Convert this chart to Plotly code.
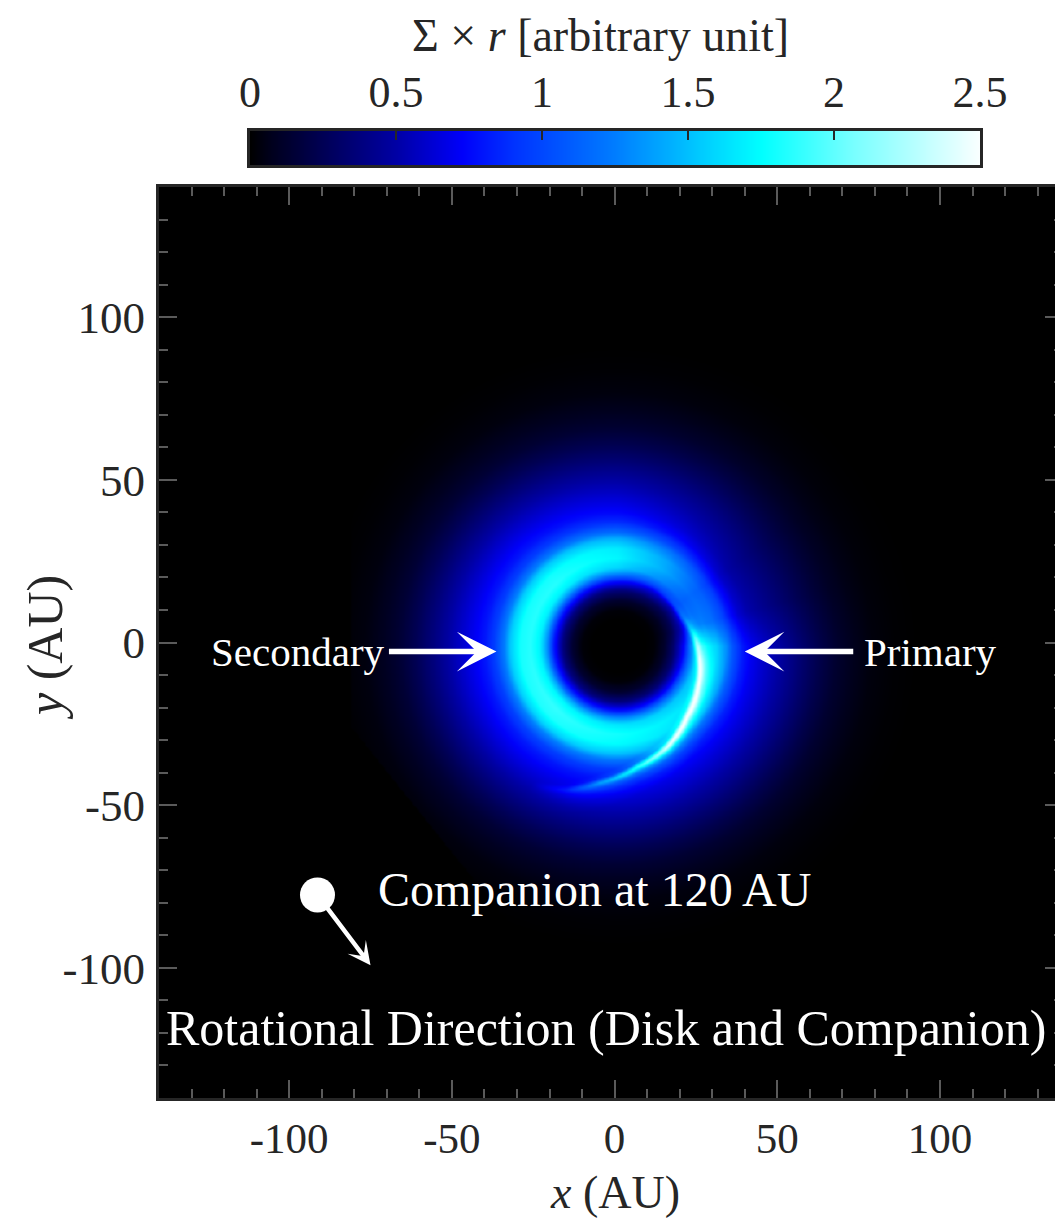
import numpy as np
import plotly.graph_objects as go

# ---------------- values ----------------
# azimuthally averaged Sigma*r profile of the disk (radius in AU)
ring_radius_au = [0, 8, 11, 14, 17, 20, 22, 24, 27, 30, 33, 35, 38, 41, 44, 47, 52, 57, 62, 67, 72, 78, 85, 92]
ring_sigma_r = [0, 0, 0.02, 0.13, 0.38, 0.85, 1.35, 1.7, 1.85, 1.8, 1.55, 1.25, 0.95, 0.8, 0.71, 0.63, 0.5, 0.37, 0.25, 0.15, 0.085, 0.035, 0.01, 0]

# azimuthal brightness factor of the disk (angle from +x, degrees)
azimuth_deg = [-180, -135, -90, -45, -15, 0, 15, 35, 60, 90, 135, 180]
azimuth_factor = [1.0, 1.02, 0.97, 0.9, 0.88, 0.86, 0.65, 0.62, 0.78, 0.93, 1.0, 1.0]

# spiral arm track: azimuth (deg), radius (AU), extra Sigma*r at the crest
arm_azimuth_deg = [-122, -110, -98, -81, -64, -46, -27, -10, 5, 24, 40, 60]
arm_radius_au = [50, 47, 42.5, 37.6, 34.4, 30.3, 27.5, 25.4, 23.8, 21.8, 21.3, 21]
arm_peak = [0, 0.2, 0.65, 0.95, 1.2, 1.0, 0.95, 1.0, 0.75, 0.4, 0.2, 0]

# arm cross-section (radial offset from the crest, AU) and relative weight
arm_offset_au = [-3.0, -1.5, -0.6, 0.0, 0.6, 1.5, 3.0, 5.0, 8.0]
arm_profile = [0.0, 0.15, 0.7, 1.0, 0.8, 0.45, 0.2, 0.07, 0.0]

disk_center_au = [1.0, -1.0]
# straight outer edge of the simulated region (lower left)
cutoff_edge_x_au = [-81.0, -48.0]
cutoff_edge_y_au = [-26.0, -67.0]

companion_x_au = [-91.3]
companion_y_au = [-77.6]

colorbar_range = [0.0, 2.5]
colorbar_ticks = [0, 0.5, 1, 1.5, 2, 2.5]
colorbar_ticktext = ["0", "0.5", "1", "1.5", "2", "2.5"]
axis_ticks = [-100, -50, 0, 50, 100]
axis_ticktext = ["-100", "-50", "0", "50", "100"]

# ---------------- build the image table ----------------
gx = np.arange(-100.0, 100.01, 0.5)
gy = np.arange(-100.0, 100.01, 0.5)
X, Y = np.meshgrid(gx, gy)
DX = X - disk_center_au[0]
DY = Y - disk_center_au[1]
R = np.hypot(DX, DY)
TH = np.degrees(np.arctan2(DY, DX))
base = np.interp(R, ring_radius_au, ring_sigma_r) * np.interp(TH, azimuth_deg, azimuth_factor)
arm_r = np.interp(TH, arm_azimuth_deg, arm_radius_au)
arm_a = np.interp(TH, arm_azimuth_deg, arm_peak)
Z = base + arm_a * np.interp(R - arm_r, arm_offset_au, arm_profile)
ex, ey = cutoff_edge_x_au, cutoff_edge_y_au
side = (ex[1] - ex[0]) * (Y - ey[0]) - (ey[1] - ey[0]) * (X - ex[0])
Z[(side < 0) | (X < ex[0])] = 0.0
Z = np.clip(Z, 0, 2.5).astype(np.float32)

colorscale = [
    [0.0, "rgb(0,0,0)"],
    [0.03, "rgb(0,0,30)"],
    [0.1, "rgb(0,0,85)"],
    [0.2, "rgb(0,0,165)"],
    [0.29, "rgb(0,0,250)"],
    [0.36, "rgb(0,50,255)"],
    [0.5, "rgb(0,125,255)"],
    [0.62, "rgb(0,205,255)"],
    [0.70, "rgb(0,255,255)"],
    [0.82, "rgb(115,255,255)"],
    [1.0, "rgb(250,255,255)"],
]

FONT = "Liberation Serif, Times New Roman, serif"
LINE = "#262626"
TICK = "#5a5a5a"
OFF = 8                      # page body margin of the html page
W, H = 1063 - OFF, 1220 - OFF


def pxx(px):
    return (px - OFF) / W


def pxy(py):
    return 1 - (py - OFF) / H


fig = go.Figure()
fig.add_trace(go.Heatmap(x=gx, y=gy, z=Z, colorscale=colorscale, zmin=0, zmax=2.5,
                         showscale=False, zsmooth="best", hoverinfo="skip",
                         xaxis="x", yaxis="y"))
# colour bar drawn as its own strip with a top axis
fig.add_trace(go.Heatmap(x=colorbar_range, y=[0, 1], z=[colorbar_range, colorbar_range],
                         colorscale=colorscale, zmin=0, zmax=2.5, showscale=False,
                         zsmooth="best", hoverinfo="skip", xaxis="x2", yaxis="y2"))
fig.add_trace(go.Scatter(x=companion_x_au, y=companion_y_au, mode="markers",
                         marker=dict(size=35, color="white", line=dict(width=0)),
                         hoverinfo="skip", showlegend=False, xaxis="x", yaxis="y3"))

major = dict(ticks="inside", ticklen=18, tickwidth=1.5, tickcolor=TICK,
             minor=dict(dtick=10, ticks="inside", ticklen=9, tickwidth=1.5, tickcolor=TICK),
             showgrid=False, zeroline=False)

fig.update_layout(
    width=W, height=H, margin=dict(l=0, r=0, t=0, b=0),
    paper_bgcolor="white", plot_bgcolor="black", showlegend=False,
    font=dict(family=FONT, color=LINE),
    xaxis=dict(domain=[pxx(159), 1.0], range=[-140, 137.8], tickvals=axis_ticks, ticktext=axis_ticktext,
               showline=True, linecolor=LINE, linewidth=3, mirror="ticks",
               tickfont=dict(size=43, family=FONT, color=LINE), ticklabelstandoff=0,
               automargin=False, **major),
    yaxis=dict(domain=[pxy(1098), pxy(187)], range=[-140, 140], tickvals=axis_ticks, ticktext=axis_ticktext,
               showline=True, linecolor=LINE, linewidth=3, mirror=False,
               tickfont=dict(size=45, family=FONT, color=LINE), ticklabelstandoff=2,
               automargin=False, **major),
    yaxis3=dict(overlaying="y", side="right", anchor="x", range=[-140, 140], tickvals=axis_ticks,
                showticklabels=False, showline=False, automargin=False, **major),
    xaxis2=dict(domain=[pxx(250), pxx(980)], anchor="y2", side="top", range=colorbar_range,
                tickvals=colorbar_ticks, ticktext=colorbar_ticktext, ticks="inside", ticklen=9,
                tickwidth=2, tickcolor=LINE, showline=True, linecolor=LINE, linewidth=3, mirror=True,
                showgrid=False, zeroline=False, tickfont=dict(size=44, family=FONT, color=LINE),
                ticklabelstandoff=3, automargin=False),
    yaxis2=dict(domain=[pxy(165), pxy(131)], anchor="x2", range=[0, 1], showticklabels=False,
                ticks="", showline=True, linecolor=LINE, linewidth=3, mirror=True,
                showgrid=False, zeroline=False, automargin=False),
)

white = "white"
ann = [
    # axis titles and colour-bar title
    dict(x=pxx(615), y=pxy(1192), xref="paper", yref="paper", text="<i>x</i> (AU)",
         showarrow=False, font=dict(size=46, family=FONT, color=LINE), xanchor="center", yanchor="middle"),
    dict(x=pxx(45), y=pxy(648), xref="paper", yref="paper", text="<i>y</i> (AU)", textangle=-90,
         showarrow=False, font=dict(size=50, family=FONT, color=LINE), xanchor="center", yanchor="middle"),
    dict(x=pxx(600), y=pxy(36), xref="paper", yref="paper", text="Σ × <i>r</i> [arbitrary unit]",
         showarrow=False, font=dict(size=46, family=FONT, color=LINE), xanchor="center", yanchor="middle"),
    # labels inside the map
    dict(x=-69.8, y=-3.0, xref="x", yref="y", text="Secondary", showarrow=False,
         font=dict(size=41, family=FONT, color=white), xanchor="right", yanchor="middle"),
    dict(x=75.9, y=-3.0, xref="x", yref="y", text="Primary", showarrow=False,
         font=dict(size=41, family=FONT, color=white), xanchor="left", yanchor="middle"),
    dict(x=-73.4, y=-75.8, xref="x", yref="y", text="Companion at 120 AU", showarrow=False,
         font=dict(size=48, family=FONT, color=white), xanchor="left", yanchor="middle"),
    dict(x=-2.5, y=-118.6, xref="x", yref="y", text="Rotational Direction (Disk and Companion)",
         showarrow=False, font=dict(size=50, family=FONT, color=white), xanchor="center", yanchor="middle"),
    # arrows
    dict(x=-36.3, y=-2.8, ax=-69.8, ay=-2.8, xref="x", yref="y", axref="x", ayref="y", text="",
         showarrow=True, arrowhead=3, arrowsize=1.2, arrowwidth=5.5, arrowcolor=white),
    dict(x=40.0, y=-2.8, ax=73.8, ay=-2.8, xref="x", yref="y", axref="x", ayref="y", text="",
         showarrow=True, arrowhead=3, arrowsize=1.2, arrowwidth=5.5, arrowcolor=white),
    dict(x=-75.0, y=-99.2, ax=companion_x_au[0], ay=companion_y_au[0], xref="x", yref="y",
         axref="x", ayref="y", text="", showarrow=True, arrowhead=3, arrowsize=0.85,
         arrowwidth=4.5, arrowcolor=white, startstandoff=12),
]
fig.update_layout(annotations=ann)

fig.write_html("out.html")
